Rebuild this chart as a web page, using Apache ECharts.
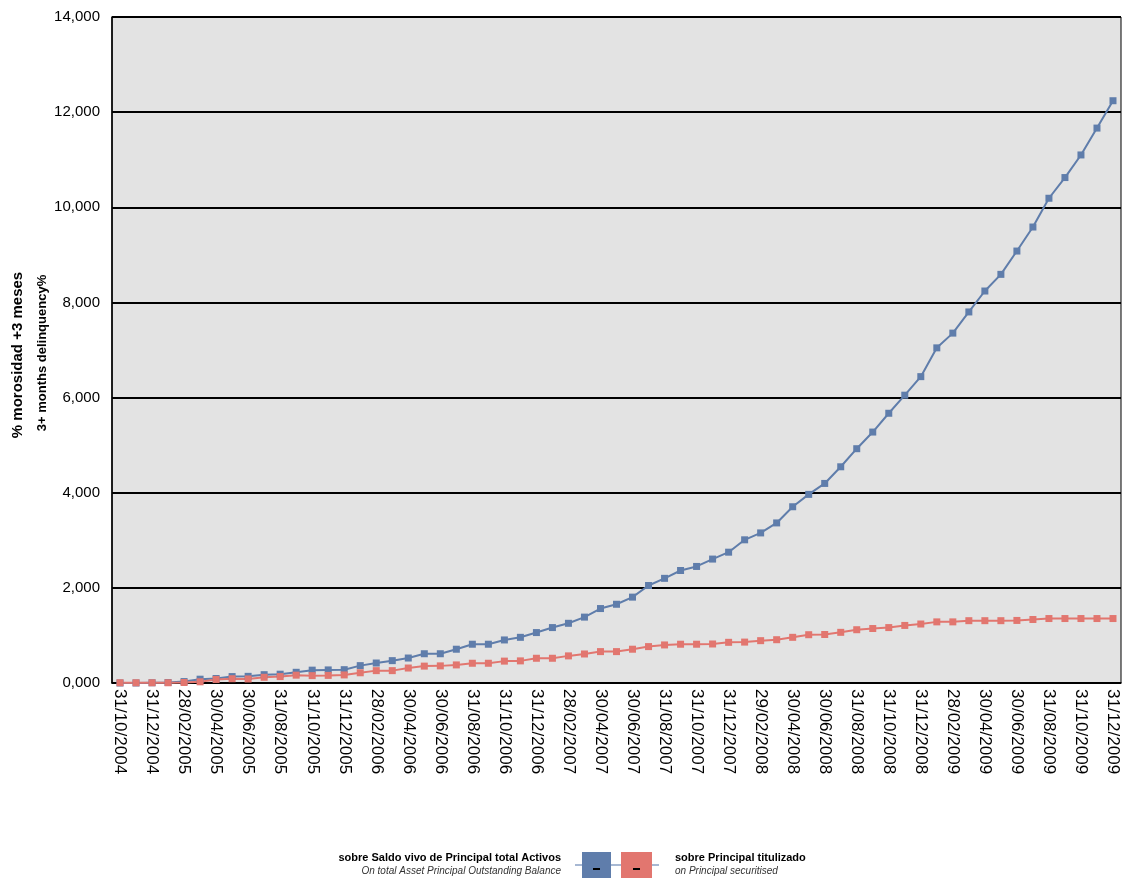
<!doctype html>
<html lang="es">
<head>
    <meta charset="UTF-8">
    <title>morosidad +3 meses</title>
    <script src="https://cdn.jsdelivr.net/npm/echarts@6/dist/echarts.min.js"></script>
    <style>
        html, body {margin: 0; padding: 0; background: #fff;}
        #chart {width: 1123px; height: 878px;}
    </style>
</head>
<body>
<div id="chart"></div>
<script>
    // fechas de cierre de mes
    var fechas = [
        '31/10/2004', '30/11/2004', '31/12/2004',
        '31/01/2005', '28/02/2005', '31/03/2005', '30/04/2005', '31/05/2005', '30/06/2005',
        '31/07/2005', '31/08/2005', '30/09/2005', '31/10/2005', '30/11/2005', '31/12/2005',
        '31/01/2006', '28/02/2006', '31/03/2006', '30/04/2006', '31/05/2006', '30/06/2006',
        '31/07/2006', '31/08/2006', '30/09/2006', '31/10/2006', '30/11/2006', '31/12/2006',
        '31/01/2007', '28/02/2007', '31/03/2007', '30/04/2007', '31/05/2007', '30/06/2007',
        '31/07/2007', '31/08/2007', '30/09/2007', '31/10/2007', '30/11/2007', '31/12/2007',
        '31/01/2008', '29/02/2008', '31/03/2008', '30/04/2008', '31/05/2008', '30/06/2008',
        '31/07/2008', '31/08/2008', '30/09/2008', '31/10/2008', '30/11/2008', '31/12/2008',
        '31/01/2009', '28/02/2009', '31/03/2009', '30/04/2009', '31/05/2009', '30/06/2009',
        '31/07/2009', '31/08/2009', '30/09/2009', '31/10/2009', '30/11/2009', '31/12/2009'
    ];

    // sobre Saldo vivo de Principal total Activos
    var saldoVivo = [
        0, 0, 5, 10, 30, 80, 95, 135, 140, 175, 185, 225, 270, 275, 280,
        365, 420, 470, 525, 615, 615, 710, 815, 815, 905, 960, 1060, 1165, 1255, 1385,
        1565, 1655, 1805, 2050, 2200, 2365, 2450, 2605, 2750, 3010, 3155, 3365, 3705, 3965, 4195,
        4545, 4925, 5275, 5670, 6050, 6440, 7045, 7355, 7800, 8240, 8590, 9080, 9585, 10190, 10625,
        11100, 11665, 12240
    ];

    // sobre Principal titulizado
    var titulizado = [
        5, 5, 5, 5, 10, 25, 75, 90, 85, 120, 135, 165, 155, 160, 170,
        215, 260, 260, 315, 355, 360, 380, 415, 415, 460, 465, 520, 520, 570, 610,
        660, 660, 710, 765, 800, 815, 815, 820, 855, 860, 890, 910, 960, 1015, 1020,
        1065, 1120, 1145, 1165, 1210, 1240, 1285, 1285, 1310, 1310, 1310, 1315, 1335, 1355, 1355,
        1355, 1355, 1355
    ];

    var azul = '#5f7dab';
    var rojo = '#e2766f';

    function fmtMiles(v) {
        var s = String(v % 1000);
        while (s.length < 3) s = '0' + s;
        return Math.floor(v / 1000) + ',' + s;
    }

    var chart = echarts.init(document.getElementById('chart'));
    chart.setOption({
        animation: false,
        textStyle: {fontFamily: 'Liberation Sans, Arial, sans-serif'},
        grid: {
            left: 112, right: 2, top: 17, bottom: 195,
            show: true,
            backgroundColor: '#e3e3e3',
            borderColor: '#000',
            borderWidth: 1
        },
        xAxis: {
            type: 'category',
            data: fechas,
            boundaryGap: true,
            axisLine: {lineStyle: {color: '#000', width: 1.5}},
            axisTick: {
                interval: 1,
                alignWithLabel: true,
                length: 6,
                lineStyle: {color: '#000', width: 1.5}
            },
            axisLabel: {
                interval: 1,
                rotate: -90,
                margin: 6,
                color: '#000',
                fontSize: 17
            }
        },
        yAxis: {
            type: 'value',
            min: 0,
            max: 14000,
            interval: 2000,
            axisLine: {show: true, lineStyle: {color: '#000', width: 1.5}},
            axisTick: {show: false},
            splitLine: {lineStyle: {color: '#000', width: 2}},
            axisLabel: {
                margin: 12,
                color: '#000',
                fontSize: 15,
                formatter: fmtMiles
            }
        },
        series: [
            {
                name: 'sobre Saldo vivo de Principal total Activos',
                type: 'line',
                data: saldoVivo,
                symbol: 'rect',
                symbolSize: 7,
                itemStyle: {color: azul},
                lineStyle: {color: azul, width: 2}
            },
            {
                name: 'sobre Principal titulizado',
                type: 'line',
                data: titulizado,
                symbol: 'rect',
                symbolSize: 7,
                itemStyle: {color: rojo},
                lineStyle: {color: rojo, width: 2}
            }
        ],
        graphic: [
            // titulo del eje Y
            {
                type: 'text', x: 18, y: 355, rotation: Math.PI / 2,
                style: {
                    text: '% morosidad +3 meses', fill: '#000',
                    font: 'bold 15px Liberation Sans, Arial, sans-serif',
                    align: 'center', verticalAlign: 'middle'
                }
            },
            {
                type: 'text', x: 42, y: 353, rotation: Math.PI / 2,
                style: {
                    text: '3+ months delinquency%', fill: '#000',
                    font: 'bold 13px Liberation Sans, Arial, sans-serif',
                    align: 'center', verticalAlign: 'middle'
                }
            },
            // leyenda
            {
                type: 'text', x: 561, y: 858,
                style: {
                    text: 'sobre Saldo vivo de Principal total Activos', fill: '#000',
                    font: 'bold 11px Liberation Sans, Arial, sans-serif',
                    align: 'right', verticalAlign: 'middle'
                }
            },
            {
                type: 'text', x: 561, y: 871,
                style: {
                    text: 'On total Asset Principal Outstanding Balance', fill: '#333',
                    font: 'italic 10px Liberation Sans, Arial, sans-serif',
                    align: 'right', verticalAlign: 'middle'
                }
            },
            {
                type: 'line',
                shape: {x1: 575, y1: 865, x2: 659, y2: 865},
                style: {stroke: '#8aa0c4', lineWidth: 1.5}
            },
            {
                type: 'rect',
                shape: {x: 582, y: 852, width: 29, height: 26},
                style: {fill: azul}
            },
            {
                type: 'rect',
                shape: {x: 621, y: 852, width: 31, height: 26},
                style: {fill: rojo}
            },
            {
                type: 'rect',
                shape: {x: 593, y: 868, width: 7, height: 2},
                style: {fill: '#000'}
            },
            {
                type: 'rect',
                shape: {x: 633, y: 868, width: 7, height: 2},
                style: {fill: '#000'}
            },
            {
                type: 'text', x: 675, y: 858,
                style: {
                    text: 'sobre Principal titulizado', fill: '#000',
                    font: 'bold 11px Liberation Sans, Arial, sans-serif',
                    align: 'left', verticalAlign: 'middle'
                }
            },
            {
                type: 'text', x: 675, y: 871,
                style: {
                    text: 'on Principal securitised', fill: '#333',
                    font: 'italic 10px Liberation Sans, Arial, sans-serif',
                    align: 'left', verticalAlign: 'middle'
                }
            }
        ]
    });
</script>
</body>
</html>
